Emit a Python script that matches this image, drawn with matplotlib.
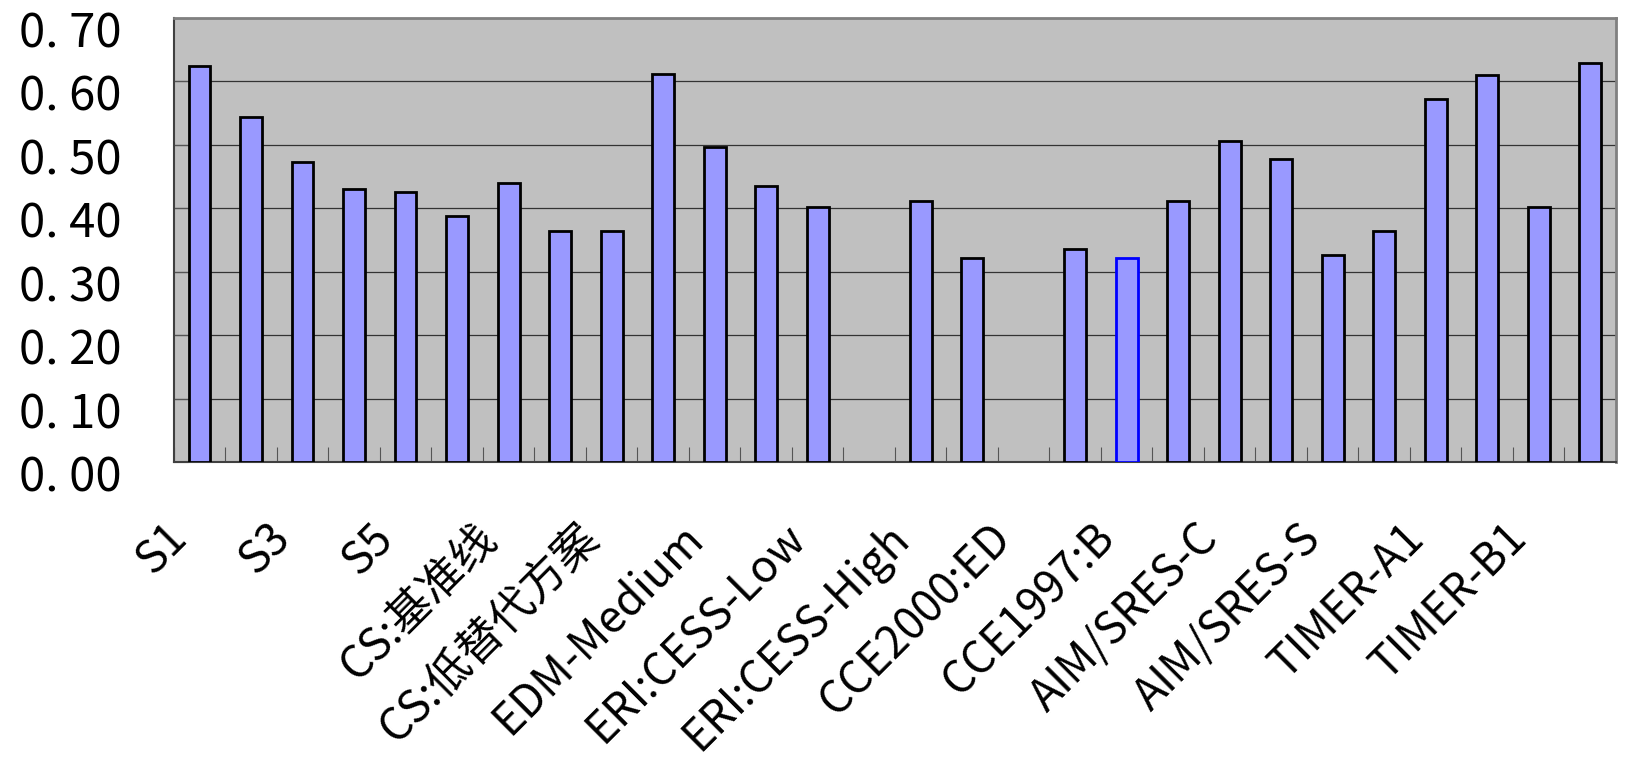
import numpy as np
import matplotlib
matplotlib.use("Agg")
import matplotlib.pyplot as plt
import matplotlib.transforms as mtransforms

plt.rcParams["font.family"] = ["Noto Sans CJK SC", "DejaVu Sans"]

# one value per category slot, nan = no bar in that slot
values = [0.624, 0.544, 0.472, 0.430, 0.425, 0.387, 0.439, 0.364, 0.364, 0.611,
          0.496, 0.435, 0.402, np.nan, 0.411, 0.322, np.nan, 0.335, 0.322, 0.411,
          0.506, 0.477, 0.326, 0.364, 0.572, 0.610, 0.402, 0.629]

# only every second slot carries a label
labels = ["S1", "S3", "S5", "CS:基准线", "CS:低替代方案", "EDM-Medium",
          "ERI:CESS-Low", "ERI:CESS-High", "CCE2000:ED", "CCE1997:B",
          "AIM/SRES-C", "AIM/SRES-S", "TIMER-A1", "TIMER-B1"]

y_ticks = [0.0, 0.1, 0.2, 0.3, 0.4, 0.5, 0.6, 0.7]
highlight = 18

vals = np.array(values)
x = np.arange(len(vals))
mask = ~np.isnan(vals)
edges = np.array(["#0000FF" if i == highlight else "black" for i in x])

fig, ax = plt.subplots(figsize=(16.3, 7.68), dpi=100)
fig.subplots_adjust(left=0.1067, right=0.9914, top=0.977, bottom=0.3984)

ax.bar(x[mask], vals[mask], width=0.42, color="#9999FF",
       edgecolor=edges[mask], linewidth=2.0, zorder=3)

ax.set_facecolor("#C0C0C0")
ax.set_xlim(-0.5, len(vals) - 0.5)
ax.set_ylim(0, 0.7)

ax.set_yticks(y_ticks)
ax.set_yticklabels(["{:.2f}".format(v).replace(".", ". ") for v in y_ticks])
ax.yaxis.grid(True, color="#333333", linewidth=0.9)
ax.set_axisbelow(True)
ax.tick_params(axis="y", direction="in", length=10, width=0.8, color="#555555",
               pad=38, labelsize=34)

ax.set_xticks(np.arange(-0.5, len(vals), 1))
ax.tick_params(axis="x", which="major", direction="in", length=11, width=0.8,
               color="#555555", labelbottom=False)
ax.set_xticks(x[::2], labels, minor=True)
ax.tick_params(axis="x", which="minor", length=0, pad=0, labelsize=32)

# baseline end of each rotated label sits a bit left of the slot, ~78px below the axis
off = mtransforms.ScaledTranslation(-0.10, -0.78, fig.dpi_scale_trans)
for lbl in ax.get_xticklabels(minor=True):
    lbl.set_rotation(45)
    lbl.set_ha("right")
    lbl.set_va("baseline")
    lbl.set_rotation_mode("anchor")
    lbl.set_transform(lbl.get_transform() + off)

dy = mtransforms.ScaledTranslation(0, -0.11, fig.dpi_scale_trans)
for lbl in ax.get_yticklabels():
    lbl.set_transform(lbl.get_transform() + dy)

for side in ["left", "bottom"]:
    ax.spines[side].set_color("#404040")
    ax.spines[side].set_linewidth(1.5)
for side in ["top", "right"]:
    ax.spines[side].set_color("#808080")
    ax.spines[side].set_linewidth(2)

plt.savefig("out.png")
